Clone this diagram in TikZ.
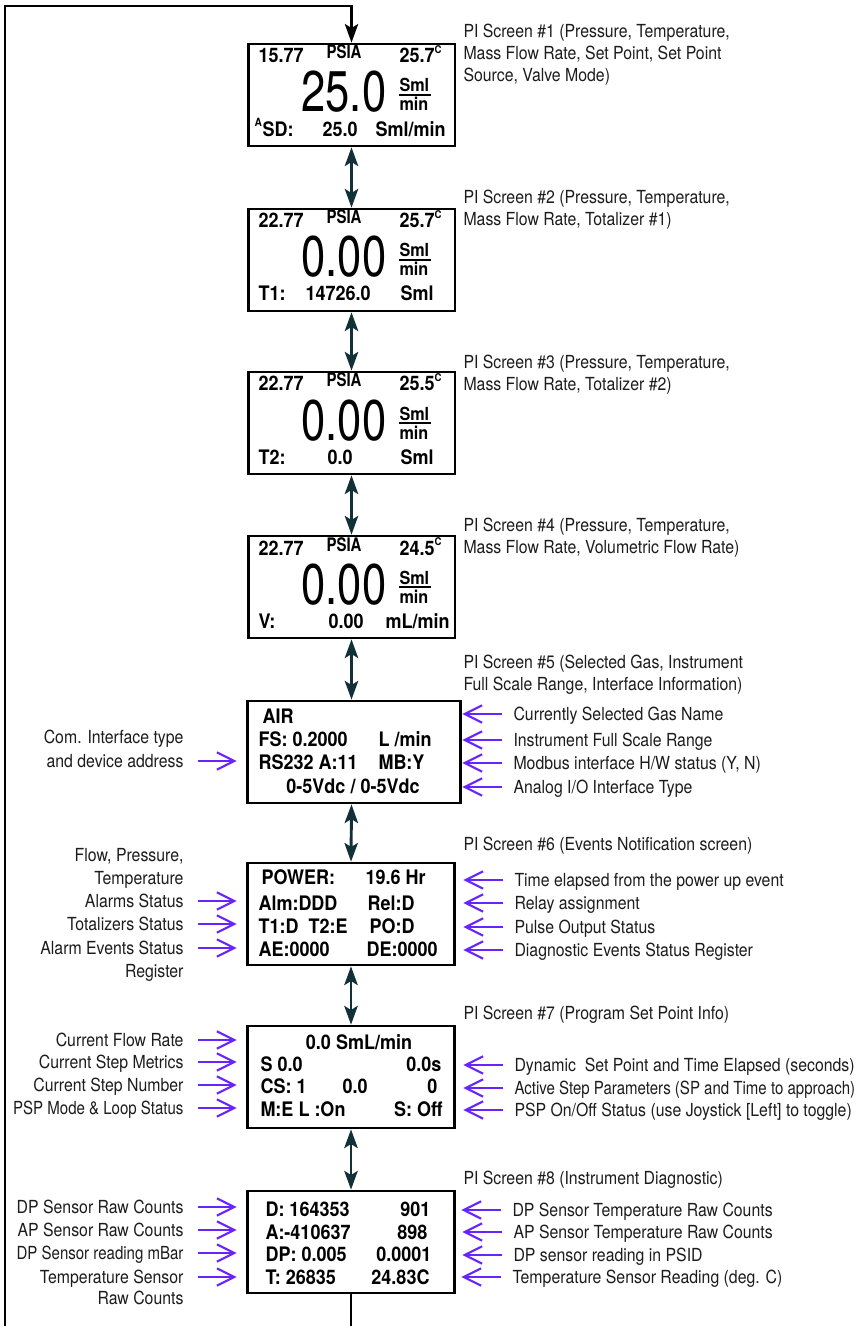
\documentclass[tikz,border=0pt]{standalone}
\usepackage{fontspec}
\setmainfont{TeX Gyre Heros}[FakeStretch=0.88]
\newfontfamily\narrowfont{TeX Gyre Heros}[FakeStretch=0.835]
\newfontfamily\lcdfont{TeX Gyre Heros}[FakeStretch=0.9]
\newfontfamily\unitfont{TeX Gyre Heros}[FakeStretch=0.8]
\newfontfamily\bigfont{TeX Gyre Heros}[FakeStretch=0.76]
\usetikzlibrary{arrows.meta}

\definecolor{navcol}{RGB}{18,48,56}
\definecolor{hintcol}{RGB}{104,36,255}
\definecolor{notecol}{RGB}{28,28,28}

\newcommand{\degsup}{\raisebox{0.85ex}{\fontsize{8}{8}\selectfont C}}

\tikzset{every picture/.style={line width=0.75pt}}
\tikzset{
  screen/.style={draw, line width=2pt, minimum width=155pt, minimum height=76.5pt, inner sep=0pt},
  lcd/.style={font=\lcdfont\bfseries\fontsize{15}{18}\selectfont, inner sep=0pt, anchor=base west},
  lcdsmall/.style={font=\unitfont\bfseries\fontsize{14}{15}\selectfont, inner sep=0pt},
  unitsty/.style={font=\lcdfont\bfseries\fontsize{13.5}{14}\selectfont, inner sep=0pt, anchor=base west},
  lcdtiny/.style={font=\lcdfont\bfseries\fontsize{8.5}{9}\selectfont, inner sep=0pt, anchor=base west},
  bignum/.style={font=\bigfont\fontsize{43}{43}\selectfont, inner sep=0pt, anchor=base west, text height=31pt, text depth=0pt},
  fracbar/.style={line width=1.5pt},
  title/.style={font=\fontsize{13.5}{16.5}\selectfont, text=notecol, inner sep=0pt, align=left, anchor=north west},
  note/.style={font=\fontsize{13.5}{16.5}\selectfont, text=notecol, inner sep=0pt, text height=9.7pt, text depth=0pt},
  nav/.style={draw=navcol, line width=2.2pt, {Stealth[length=14pt,width=10pt,inset=3pt]}-{Stealth[length=14pt,width=10pt,inset=3pt]}},
  loopline/.style={draw=black, line width=1.6pt},
  hint/.style={draw=hintcol, line width=1.6pt, -{Straight Barb[length=13pt,width=13pt]}}
}

\begin{document}
\begin{tikzpicture}[x=0.75pt,y=0.75pt,yscale=-1,xscale=1]
\useasboundingbox (0,0) rectangle (864,1326);

%Shape: Rectangle (screens)
\node[screen] (s1) at (351.5,95) {};
\node[screen] (s2) at (351.5,260) {};
\node[screen] (s3) at (351.5,423) {};
\node[screen] (s4) at (351.5,587) {};
\node[screen, minimum width=160pt] (s5) at (354,752) {};
\node[screen] (s6) at (351,914) {};
\node[screen] (s7) at (351,1077) {};
\node[screen] (s8) at (351,1242) {};

% Screen 1
\node[lcd] (s1p) at (258,63) {15.77};
\node[lcdsmall, anchor=base] (s1u) at (344,59) {PSIA};
\node[lcd] (s1t) at (399,63) {25.7\degsup};
\node[bignum] (s1f) at (301,112) {25.0};
\node[unitsty] (s1a) at (399,92) {Sml};
\node[unitsty] (s1b) at (399,111) {min};
\draw[fracbar] ([yshift=2.4pt]s1a.base west) -- ([yshift=2.4pt,xshift=1pt]s1a.base east);
\node[lcdtiny] (s1x) at (254,127) {A};
\node[lcd] (s1s) at (262,137) {SD:};
\node[lcd] (s1v) at (322,137) {25.0};
\node[lcd] (s1m) at (375,137) {Sml/min};

% Screen 2
\node[lcd] (s2p) at (258,228) {22.77};
\node[lcdsmall, anchor=base] (s2u) at (344,224) {PSIA};
\node[lcd] (s2t) at (399,228) {25.7\degsup};
\node[bignum] (s2f) at (301,277) {0.00};
\node[unitsty] (s2a) at (399,257) {Sml};
\node[unitsty] (s2b) at (399,276) {min};
\draw[fracbar] ([yshift=2.4pt]s2a.base west) -- ([yshift=2.4pt,xshift=1pt]s2a.base east);
\node[lcd] (s2s) at (258,301) {T1:};
\node[lcd] (s2v) at (305,301) {14726.0};
\node[lcd] (s2m) at (400,301) {Sml};

% Screen 3
\node[lcd] (s3p) at (258,391) {22.77};
\node[lcdsmall, anchor=base] (s3u) at (344,387) {PSIA};
\node[lcd] (s3t) at (399,391) {25.5\degsup};
\node[bignum] (s3f) at (301,440) {0.00};
\node[unitsty] (s3a) at (399,420) {Sml};
\node[unitsty] (s3b) at (399,439) {min};
\draw[fracbar] ([yshift=2.4pt]s3a.base west) -- ([yshift=2.4pt,xshift=1pt]s3a.base east);
\node[lcd] (s3s) at (258,464) {T2:};
\node[lcd] (s3v) at (327,464) {0.0};
\node[lcd] (s3m) at (400,464) {Sml};

% Screen 4
\node[lcd] (s4p) at (258,555) {22.77};
\node[lcdsmall, anchor=base] (s4u) at (344,551) {PSIA};
\node[lcd] (s4t) at (399,555) {24.5\degsup};
\node[bignum] (s4f) at (301,604) {0.00};
\node[unitsty] (s4a) at (399,584) {Sml};
\node[unitsty] (s4b) at (399,603) {min};
\draw[fracbar] ([yshift=2.4pt]s4a.base west) -- ([yshift=2.4pt,xshift=1pt]s4a.base east);
\node[lcd] (s4s) at (258,628) {V:};
\node[lcd] (s4v) at (328,628) {0.00};
\node[lcd] (s4m) at (385,628) {mL/min};

% Screen 5
\node[lcd] (s5a) at (262,723) {AIR};
\node[lcd] (s5b) at (258,746) {FS: 0.2000};
\node[lcd] (s5c) at (378,746) {L /min};
\node[lcd] (s5d) at (258,769) {RS232 A:11};
\node[lcd] (s5e) at (378,769) {MB:Y};
\node[lcd, anchor=base] (s5f) at (353,793) {0-5Vdc / 0-5Vdc};

% Screen 6
\node[lcd] (s6a) at (261,884) {POWER:};
\node[lcd] (s6b) at (365,884) {19.6 Hr};
\node[lcd] (s6c) at (258,910) {Alm:DDD};
\node[lcd] (s6d) at (367,910) {Rel:D};
\node[lcd] (s6e) at (258,933) {T1:D\ \ T2:E};
\node[lcd] (s6f) at (369,933) {PO:D};
\node[lcd] (s6g) at (258,956) {AE:0000};
\node[lcd] (s6h) at (366,956) {DE:0000};

% Screen 7
\node[lcd, anchor=base] (s7a) at (359,1049) {0.0 SmL/min};
\node[lcd] (s7b) at (260,1071) {S 0.0};
\node[lcd, anchor=base east] (s7c) at (442,1071) {0.0s};
\node[lcd] (s7d) at (260,1093) {CS: 1};
\node[lcd] (s7e) at (342,1093) {0.0};
\node[lcd, anchor=base east] (s7f) at (438,1093) {0};
\node[lcd] (s7g) at (260,1116) {M:E L :On};
\node[lcd, anchor=base east] (s7h) at (443,1116) {S: Off};

% Screen 8
\node[lcd] (s8a) at (265,1216) {D: 164353};
\node[lcd, anchor=base east] (s8b) at (431,1216) {901};
\node[lcd] (s8c) at (265,1239) {A:-410637};
\node[lcd, anchor=base east] (s8d) at (428,1239) {898};
\node[lcd] (s8e) at (265,1261) {DP: 0.005};
\node[lcd, anchor=base east] (s8f) at (432,1261) {0.0001};
\node[lcd] (s8g) at (265,1284) {T: 26835};
\node[lcd, anchor=base east] (s8h) at (430,1284) {24.83C};

%Straight Lines (screen to screen)
\draw[nav] (s1.south) -- (s2.north);
\draw[nav] (s2.south) -- (s3.north);
\draw[nav] (s3.south) -- (s4.north);
\draw[nav] (s4.south) -- (s4.south |- s5.north);
\draw[nav] (s4.south |- s5.south) -- (s6.north);
\draw[nav] (s6.south) -- (s7.north);
\draw[nav] (s7.south) -- (s8.north);

% return loop
\coordinate (cornbl) at (5,1326);
\coordinate (corntl) at (5,6);
\draw[loopline] (s8.south) -- (s8.south |- cornbl);
\draw[loopline, -{Stealth[length=14pt,width=10pt,inset=3pt]}] (cornbl) -- (corntl) -| (s1.north);

% Text Node (screen titles)
\node[title] (t1) at (463,23.5) {PI Screen \#1 (Pressure, Temperature,\\Mass Flow Rate, Set Point, Set Point\\Source, Valve Mode)};
\node[title] (t2) at (463,189.5) {PI Screen \#2 (Pressure, Temperature,\\Mass Flow Rate, Totalizer \#1)};
\node[title] (t3) at (463,354.5) {PI Screen \#3 (Pressure, Temperature,\\Mass Flow Rate, Totalizer \#2)};
\node[title] (t4) at (463,517.5) {PI Screen \#4 (Pressure, Temperature,\\Mass Flow Rate, Volumetric Flow Rate)};
\node[title] (t5) at (463,654.5) {PI Screen \#5 (Selected Gas, Instrument\\Full Scale Range, Interface Information)};
\node[title] (t6) at (463,836.5) {PI Screen \#6 (Events Notification screen)};
\node[title] (t7) at (463,1005.5) {PI Screen \#7 (Program Set Point Info)};
\node[title] (t8) at (463,1170.5) {PI Screen \#8 (Instrument Diagnostic)};

% Text Node (right notes)
\node[note, anchor=west] (r51) at (513,714) {Currently Selected Gas Name};
\node[note, anchor=west] (r52) at (513,740) {Instrument Full Scale Range};
\node[note, anchor=west] (r53) at (513,763) {Modbus interface H/W status (Y, N)};
\node[note, anchor=west] (r54) at (513,787) {Analog I/O Interface Type};
\node[note, anchor=west] (r61) at (514,880) {Time elapsed from the power up event};
\node[note, anchor=west] (r62) at (514,903) {Relay assignment};
\node[note, anchor=west] (r63) at (514,927) {Pulse Output Status};
\node[note, anchor=west] (r64) at (514,950) {Diagnostic Events Status Register};
\node[note, anchor=west] (r71) at (514,1065) {Dynamic\ \ Set Point and Time Elapsed (seconds)};
\node[note, anchor=west, font=\narrowfont\fontsize{13.5}{16.5}\selectfont] (r72) at (514,1088) {Active Step Parameters (SP and Time to approach)};
\node[note, anchor=west] (r73) at (514,1110) {PSP On/Off Status (use Joystick [Left] to toggle)};
\node[note, anchor=west] (r81) at (512,1210) {DP Sensor Temperature Raw Counts};
\node[note, anchor=west] (r82) at (513,1232) {AP Sensor Temperature Raw Counts};
\node[note, anchor=west] (r83) at (513,1255) {DP sensor reading in PSID};
\node[note, anchor=west] (r84) at (512,1277) {Temperature Sensor Reading (deg. C)};

% Text Node (left notes)
\node[note, anchor=east] (l5a) at (184,737) {Com. Interface type};
\node[note, anchor=east] (l5b) at (184,761) {and device address};
\node[note, anchor=east] (l6a) at (184,855) {Flow, Pressure,};
\node[note, anchor=east] (l6b) at (184,878) {Temperature};
\node[note, anchor=east] (l6c) at (184,901) {Alarms Status};
\node[note, anchor=east] (l6d) at (184,924) {Totalizers Status};
\node[note, anchor=east] (l6e) at (184,948) {Alarm Events Status};
\node[note, anchor=east] (l6f) at (184,971) {Register};
\node[note, anchor=east] (l71) at (184,1040) {Current Flow Rate};
\node[note, anchor=east] (l72) at (184,1062) {Current Step Metrics};
\node[note, anchor=east] (l73) at (184,1085) {Current Step Number};
\node[note, anchor=east, font=\narrowfont\fontsize{13.5}{16.5}\selectfont] (l74) at (184,1108) {PSP Mode \& Loop Status};
\node[note, anchor=east] (l81) at (184,1207) {DP Sensor Raw Counts};
\node[note, anchor=east] (l82) at (184,1230) {AP Sensor Raw Counts};
\node[note, anchor=east, font=\narrowfont\fontsize{13.5}{16.5}\selectfont] (l83) at (184,1253) {DP Sensor reading mBar};
\node[note, anchor=east] (l84) at (184,1277) {Temperature Sensor};
\node[note, anchor=east] (l85) at (184,1298) {Raw Counts};

%Straight Lines (pointers, right side)
\foreach \n in {r51,r52,r53,r54,r61,r62,r63,r64,r71,r72,r73,r81,r82,r83,r84}
  \draw[hint] ([xshift=-8pt]\n.west) -- ++(-30pt,0);
%Straight Lines (pointers, left side)
\foreach \n in {l5b,l6c,l6d,l6e,l71,l72,l73,l74,l81,l82,l83,l84}
  \draw[hint] ([xshift=10.5pt]\n.east) -- ++(29pt,0);

\end{tikzpicture}
\end{document}
